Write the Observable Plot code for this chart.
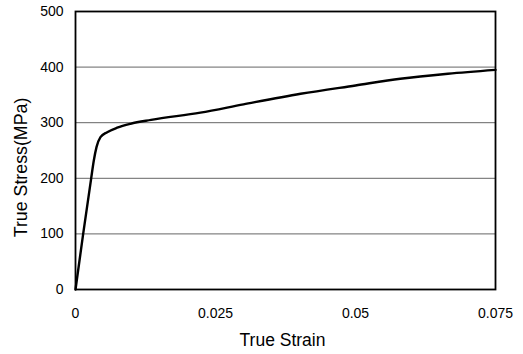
<!DOCTYPE html>
<html>
<head>
<meta charset="utf-8">
<script src="https://cdn.jsdelivr.net/npm/d3@7"></script>
<script src="https://cdn.jsdelivr.net/npm/@observablehq/plot@0.6"></script>
<style>
  html, body { margin: 0; padding: 0; background: #fff; }
</style>
</head>
<body>
<div id="chart"></div>
<script>
const strain = [0, 0.00137, 0.0028, 0.00327, 0.00375, 0.00446, 0.00566, 0.00745, 0.00982, 0.0135, 0.0223, 0.030, 0.0402, 0.050, 0.058, 0.0665, 0.075];
const stress = [0, 100, 200, 232, 256, 274, 283, 291, 298, 305, 318, 333, 352, 367, 379, 388, 395];
const xTicks = [0, 0.025, 0.05, 0.075];
const xTickLabels = ["0", "0.025", "0.05", "0.075"];
const yTicks = [0, 100, 200, 300, 400, 500];
const yTickLabels = ["0", "100", "200", "300", "400", "500"];
const xLabel = "True Strain";
const yLabel = "True Stress(MPa)";

const data = strain.map((s, i) => ({strain: s, stress: stress[i]}));

const chart = Plot.plot({
  width: 523,
  height: 354,
  marginLeft: 75,
  marginRight: 28,
  marginTop: 11,
  marginBottom: 65,
  style: {fontFamily: "'Liberation Sans', Arial, Helvetica, sans-serif", fontSize: "14px", background: "white", color: "black"},
  x: {domain: [0, 0.075]},
  y: {domain: [0, 500]},
  marks: [
    Plot.gridY([100, 200, 300, 400], {stroke: "#555", strokeOpacity: 1, strokeWidth: 0.9}),
    Plot.axisX(xTicks, {tickSize: 0, tickPadding: 19, label: null, fontSize: 14, tickFormat: d => xTickLabels[xTicks.indexOf(d)]}),
    Plot.axisY(yTicks, {tickSize: 0, tickPadding: 12, label: null, fontSize: 14, tickFormat: d => yTickLabels[yTicks.indexOf(d)]}),
    Plot.line(data, {x: "strain", y: "stress", stroke: "black", strokeWidth: 2.4, curve: "monotone-x"}),
    Plot.frame({stroke: "black", strokeWidth: 1.8}),
    Plot.text([xLabel], {frameAnchor: "bottom", textAnchor: "middle", lineAnchor: "middle", dy: 51, dx: -3, fontSize: 17.5, fill: "black"}),
    Plot.text([yLabel], {frameAnchor: "left", textAnchor: "middle", lineAnchor: "middle", rotate: -90, dx: -54, dy: 17, fontSize: 17.8, fill: "black"})
  ]
});
document.getElementById("chart").appendChild(chart);
</script>
</body>
</html>
